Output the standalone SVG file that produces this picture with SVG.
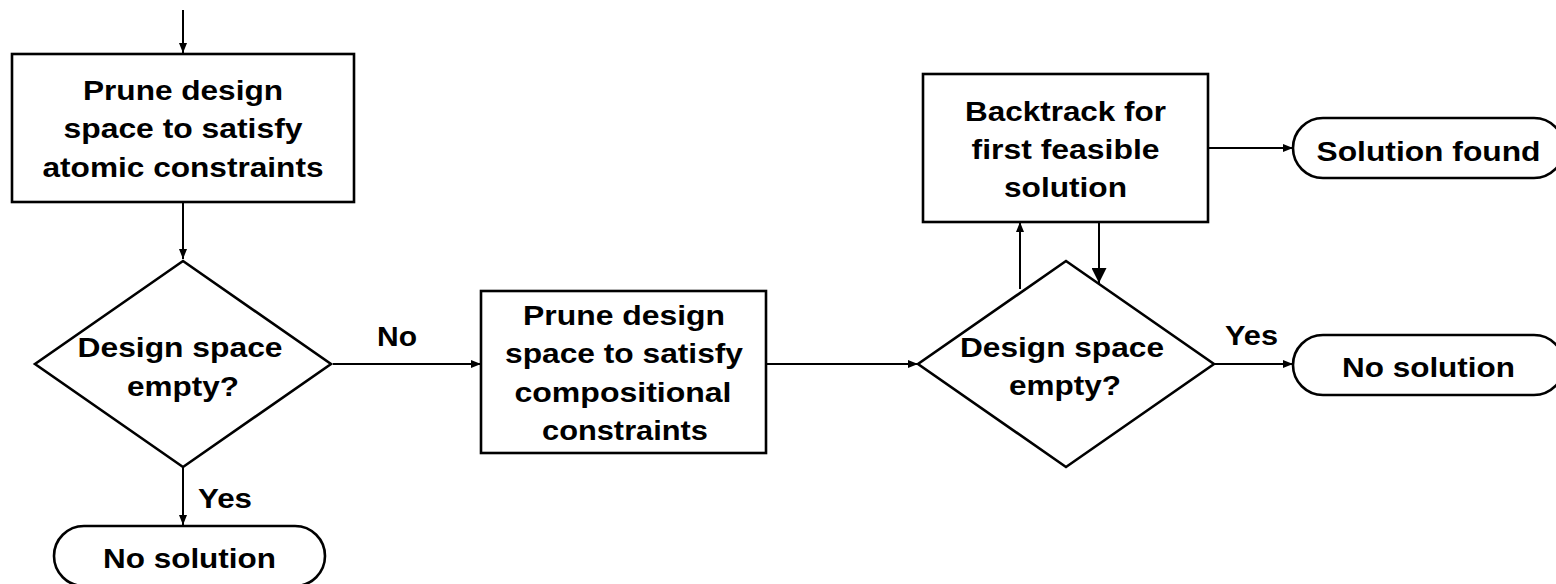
<svg xmlns="http://www.w3.org/2000/svg" width="1556" height="584" viewBox="0 0 1556 584">
  <style>
    .shape { fill: #ffffff; stroke: #000000; stroke-width: 2.6; }
    .conn { fill: none; stroke: #000000; stroke-width: 2; }
    text { font-family: "Liberation Sans", Arial, sans-serif; font-weight: bold; font-size: 28px; fill: #000000; }
    .c { text-anchor: middle; }
  </style>
  <defs>
    <marker id="arrow" markerUnits="userSpaceOnUse" markerWidth="10" markerHeight="8" refX="10" refY="4" orient="auto">
      <path d="M0,0 L10,4 L0,8 z" fill="#000000"/>
    </marker>
    <marker id="arrowBig" markerUnits="userSpaceOnUse" markerWidth="15" markerHeight="15" refX="15" refY="7.5" orient="auto">
      <path d="M0,0 L15,7.5 L0,15 z" fill="#000000"/>
    </marker>
  </defs>

  <rect width="1556" height="584" fill="#ffffff"/>

  <!-- connectors -->
  <g id="connectors">
    <line class="conn" x1="183" y1="10" x2="183" y2="53" marker-end="url(#arrow)"/>
    <line class="conn" x1="183" y1="202" x2="183" y2="259" marker-end="url(#arrow)"/>
    <line class="conn" x1="333" y1="364" x2="481" y2="364" marker-end="url(#arrow)"/>
    <line class="conn" x1="183" y1="467" x2="183" y2="525" marker-end="url(#arrow)"/>
    <line class="conn" x1="767" y1="364" x2="918" y2="364" marker-end="url(#arrow)"/>
    <line class="conn" x1="1020" y1="289" x2="1020" y2="222" marker-end="url(#arrow)"/>
    <line class="conn" x1="1099" y1="218" x2="1099" y2="283" marker-end="url(#arrowBig)"/>
    <line class="conn" x1="1208" y1="148" x2="1293" y2="148" marker-end="url(#arrow)"/>
    <line class="conn" x1="1215" y1="364" x2="1293" y2="364" marker-end="url(#arrow)"/>
    <text x="377" y="346" textLength="40" lengthAdjust="spacingAndGlyphs">No</text>
    <text x="198" y="508" textLength="54" lengthAdjust="spacingAndGlyphs">Yes</text>
    <text x="1225" y="345" textLength="53" lengthAdjust="spacingAndGlyphs">Yes</text>
  </g>

  <!-- atomic pruning step -->
  <g id="prune-atomic">
    <rect class="shape" x="12" y="54" width="342" height="148"/>
    <text class="c" x="183" y="100" textLength="200" lengthAdjust="spacingAndGlyphs">Prune design</text>
    <text class="c" x="183" y="138" textLength="239" lengthAdjust="spacingAndGlyphs">space to satisfy</text>
    <text class="c" x="183" y="177" textLength="281" lengthAdjust="spacingAndGlyphs">atomic constraints</text>
  </g>

  <!-- first emptiness check -->
  <g id="check-empty-1">
    <polygon class="shape" points="183,261 331,364 183,467 35,364"/>
    <text class="c" x="180" y="357" textLength="205" lengthAdjust="spacingAndGlyphs">Design space</text>
    <text class="c" x="183" y="396" textLength="112" lengthAdjust="spacingAndGlyphs">empty?</text>
  </g>

  <!-- terminal: no solution after atomic pruning -->
  <g id="no-solution-1">
    <rect class="shape" x="54" y="526" width="271" height="60" rx="30" ry="30"/>
    <text class="c" x="189.5" y="568" textLength="173" lengthAdjust="spacingAndGlyphs">No solution</text>
  </g>

  <!-- compositional pruning step -->
  <g id="prune-compositional">
    <rect class="shape" x="481" y="291" width="285" height="162"/>
    <text class="c" x="624" y="325" textLength="202" lengthAdjust="spacingAndGlyphs">Prune design</text>
    <text class="c" x="624" y="363" textLength="238" lengthAdjust="spacingAndGlyphs">space to satisfy</text>
    <text class="c" x="623" y="402" textLength="217" lengthAdjust="spacingAndGlyphs">compositional</text>
    <text class="c" x="625" y="440" textLength="166" lengthAdjust="spacingAndGlyphs">constraints</text>
  </g>

  <!-- second emptiness check -->
  <g id="check-empty-2">
    <polygon class="shape" points="1066,261 1214,364 1066,467 918,364"/>
    <text class="c" x="1062" y="357" textLength="204" lengthAdjust="spacingAndGlyphs">Design space</text>
    <text class="c" x="1065" y="395" textLength="112" lengthAdjust="spacingAndGlyphs">empty?</text>
  </g>

  <!-- backtracking search -->
  <g id="backtrack">
    <rect class="shape" x="923" y="74" width="285" height="148"/>
    <text class="c" x="1065.5" y="121" textLength="201" lengthAdjust="spacingAndGlyphs">Backtrack for</text>
    <text class="c" x="1065.5" y="159" textLength="188" lengthAdjust="spacingAndGlyphs">first feasible</text>
    <text class="c" x="1065.5" y="197" textLength="123" lengthAdjust="spacingAndGlyphs">solution</text>
  </g>

  <!-- terminal: solution found -->
  <g id="solution-found">
    <rect class="shape" x="1293" y="118" width="271" height="60" rx="30" ry="30"/>
    <text class="c" x="1428.5" y="161" textLength="224" lengthAdjust="spacingAndGlyphs">Solution found</text>
  </g>

  <!-- terminal: no solution after compositional pruning -->
  <g id="no-solution-2">
    <rect class="shape" x="1293" y="335" width="271" height="60" rx="30" ry="30"/>
    <text class="c" x="1428.5" y="377" textLength="173" lengthAdjust="spacingAndGlyphs">No solution</text>
  </g>
</svg>
